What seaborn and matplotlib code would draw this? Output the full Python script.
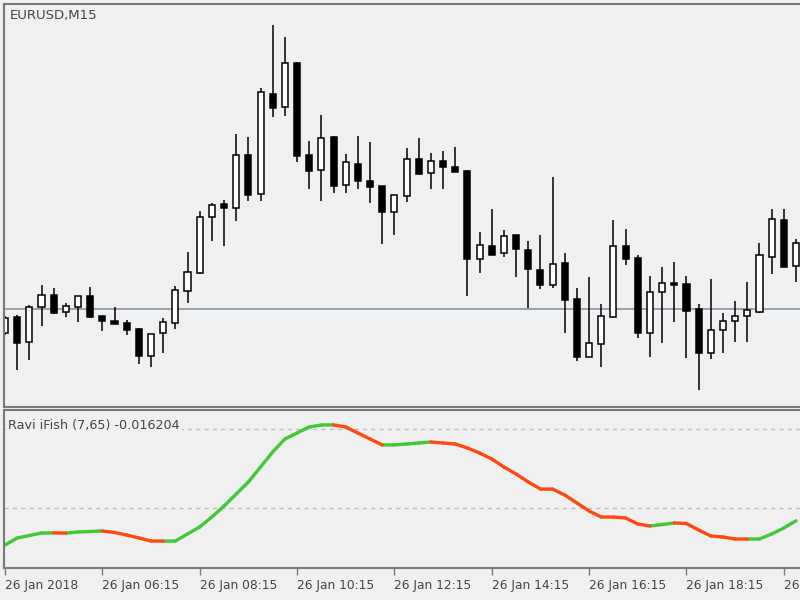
import matplotlib
matplotlib.use('Agg')
import matplotlib.pyplot as plt
import seaborn as sns
import numpy as np
import pandas as pd

# EURUSD M15 candles, 26 Jan 2018 from 04:15
open_ = [1.23952, 1.23984, 1.23934, 1.24004, 1.24028, 1.23994, 1.24004, 1.24026, 1.23986, 1.23976,
         1.23972, 1.23960, 1.23906, 1.23952, 1.23972, 1.24036, 1.24072, 1.24184, 1.24210, 1.24202,
         1.24308, 1.24230, 1.24430, 1.24404, 1.24492, 1.24308, 1.24278, 1.24344, 1.24248, 1.24290,
         1.24256, 1.24246, 1.24194, 1.24226, 1.24300, 1.24272, 1.24296, 1.24284, 1.24276, 1.24100,
         1.24126, 1.24112, 1.24148, 1.24118, 1.24078, 1.24048, 1.24092, 1.24020, 1.23904, 1.23930,
         1.23984, 1.24126, 1.24102, 1.23952, 1.24034, 1.24052, 1.24050, 1.24000, 1.23912, 1.23958,
         1.23976, 1.23986, 1.23994, 1.24104, 1.24178, 1.24086]
high = [1.23986, 1.23988, 1.24008, 1.24048, 1.24042, 1.24012, 1.24026, 1.24044, 1.23986, 1.24004,
        1.23978, 1.23962, 1.23950, 1.23982, 1.24046, 1.24114, 1.24196, 1.24212, 1.24218, 1.24350,
        1.24344, 1.24442, 1.24568, 1.24544, 1.24494, 1.24336, 1.24388, 1.24346, 1.24310, 1.24346,
        1.24334, 1.24246, 1.24228, 1.24322, 1.24342, 1.24312, 1.24316, 1.24324, 1.24278, 1.24154,
        1.24200, 1.24158, 1.24148, 1.24136, 1.24148, 1.24264, 1.24112, 1.24042, 1.24064, 1.24010,
        1.24178, 1.24160, 1.24108, 1.24066, 1.24084, 1.24094, 1.24066, 1.24010, 1.24060, 1.23992,
        1.24016, 1.24054, 1.24132, 1.24200, 1.24200, 1.24140]
low = [1.23948, 1.23878, 1.23898, 1.23966, 1.23990, 1.23984, 1.23974, 1.23982, 1.23956, 1.23970,
       1.23948, 1.23890, 1.23884, 1.23912, 1.23960, 1.24012, 1.24070, 1.24136, 1.24126, 1.24176,
       1.24216, 1.24216, 1.24384, 1.24386, 1.24294, 1.24240, 1.24216, 1.24232, 1.24232, 1.24240,
       1.24212, 1.24130, 1.24148, 1.24214, 1.24268, 1.24240, 1.24240, 1.24274, 1.24026, 1.24072,
       1.24108, 1.24104, 1.24064, 1.24002, 1.24040, 1.24042, 1.23952, 1.23896, 1.23904, 1.23884,
       1.23982, 1.24088, 1.23942, 1.23904, 1.23932, 1.23974, 1.23902, 1.23838, 1.23900, 1.23912,
       1.23934, 1.23934, 1.23992, 1.24070, 1.24084, 1.24054]
close = [1.23982, 1.23932, 1.24004, 1.24028, 1.23992, 1.24006, 1.24026, 1.23984, 1.23976, 1.23970,
         1.23958, 1.23906, 1.23950, 1.23974, 1.24038, 1.24074, 1.24184, 1.24208, 1.24202, 1.24308,
         1.24228, 1.24434, 1.24402, 1.24492, 1.24306, 1.24276, 1.24342, 1.24246, 1.24294, 1.24256,
         1.24244, 1.24194, 1.24228, 1.24300, 1.24270, 1.24296, 1.24284, 1.24274, 1.24100, 1.24128,
         1.24108, 1.24146, 1.24120, 1.24080, 1.24048, 1.24090, 1.24018, 1.23904, 1.23932, 1.23986,
         1.24126, 1.24100, 1.23952, 1.24034, 1.24052, 1.24048, 1.23996, 1.23912, 1.23958, 1.23976,
         1.23986, 1.23998, 1.24108, 1.24180, 1.24084, 1.24132]
bid = 1.24000

# Ravi iFish (7,65)
ravi = [-0.04684, -0.03797, -0.03481, -0.03165, -0.03150, -0.03180, -0.03038, -0.02975, -0.02911, -0.03101,
        -0.03418, -0.03797, -0.04177, -0.04190, -0.04177, -0.03291, -0.02405, -0.01139, 0.00253, 0.01772,
        0.03291, 0.05190, 0.07089, 0.08734, 0.09494, 0.10253, 0.10506, 0.10520, 0.10253, 0.09494,
        0.08734, 0.07975, 0.07990, 0.08101, 0.08228, 0.08354, 0.08228, 0.08101, 0.07595, 0.06962,
        0.06203, 0.05190, 0.04304, 0.03291, 0.02405, 0.02390, 0.01646, 0.00633, -0.00380, -0.01139,
        -0.01150, -0.01266, -0.02025, -0.02278, -0.02089, -0.01899, -0.01962, -0.02785, -0.03544, -0.03671,
        -0.03924, -0.03930, -0.03924, -0.03291, -0.02532, -0.016204]
trend = list("GGGGG" "R" "GGG" "RRRRR" "GGGGGGGGGGGGGG" "RRRR" "GGGG"
             "RRRRRRRRRRRRRRRRRR" "GG" "RRRRRR" "GGGG")
levels = [0.1, 0.0]

tick_labels = ["26 Jan 2018", "26 Jan 06:15", "26 Jan 08:15", "26 Jan 10:15", "26 Jan 12:15",
               "26 Jan 14:15", "26 Jan 16:15", "26 Jan 18:15", "26 Jan 20:15"]

sns.set_style('white')
plt.rcParams['font.family'] = ['DejaVu Sans']
bg = '#f0f0f0'
border = '#7a7a7a'
txt = '#444444'

fig = plt.figure(figsize=(8, 6), dpi=100, facecolor=bg)
ax1 = fig.add_axes([4/800, 193/600, 796/800, 403/600], facecolor=bg)
ax2 = fig.add_axes([4/800, 32/600, 796/800, 158/600], facecolor=bg)

o = np.array(open_); h = np.array(high); l = np.array(low); c = np.array(close)
bars = np.arange(len(c))
rising = c >= o
lo = np.minimum(o, c)
ht = np.maximum(np.abs(c - o), 0.000015)

ax1.axhline(bid, color='#8496a8', lw=1.2, zorder=0)
ax1.vlines(bars, l, h, color='black', lw=1.1, zorder=1)
ax1.bar(bars, ht, bottom=lo, width=0.5, color=np.where(rising, 'white', 'black'),
        edgecolor='black', linewidth=1.1, zorder=2)
ax1.set_xlim(-0.082, 65.33)
ax1.set_ylim(1.23804, 1.24610)
ax1.set_xticks([]); ax1.set_yticks([])
ax1.text(6/796, 1 - 11/403, "EURUSD,M15", transform=ax1.transAxes, va='center', ha='left',
         fontsize=9.5, color=txt)

# indicator line, one two-point segment per bar, coloured by direction
rows = []
for i in range(1, len(ravi)):
    for j in (i - 1, i):
        rows.append({'seg': i, 'bar': j, 'value': ravi[j], 'trend': trend[i]})
seg_df = pd.DataFrame(rows)

for lv in levels:
    ax2.axhline(lv, color='#bdbdbd', lw=1, ls=(0, (3, 3)), zorder=0)
sns.lineplot(data=seg_df, x='bar', y='value', hue='trend', units='seg', estimator=None,
             palette={'G': '#40c836', 'R': '#ff4812'}, linewidth=2.4, legend=False,
             sort=False, ax=ax2, solid_capstyle='round')
ax2.set_xlim(-0.082, 65.33)
ax2.set_ylim(-0.07595, 0.12405)
ax2.set_yticks([])
ax2.set_xlabel(''); ax2.set_ylabel('')
ax2.set_xticks(bars[::8])
ax2.set_xticklabels(tick_labels, ha='left')
ax2.tick_params(axis='x', direction='out', length=5, width=1, color=border,
                labelsize=8.8, labelcolor=txt, pad=3, bottom=True)
ax2.text(4/796, 1 - 15/158, "Ravi iFish (7,65) -0.016204", transform=ax2.transAxes,
         va='center', ha='left', fontsize=9.2, color=txt,
         bbox=dict(facecolor=bg, edgecolor='none', pad=1.5))

for ax in (ax1, ax2):
    for side in ('left', 'top', 'bottom'):
        ax.spines[side].set_color(border)
        ax.spines[side].set_linewidth(1.5)
    ax.spines['right'].set_visible(False)

fig.savefig('out.png', dpi=100, facecolor=bg)
